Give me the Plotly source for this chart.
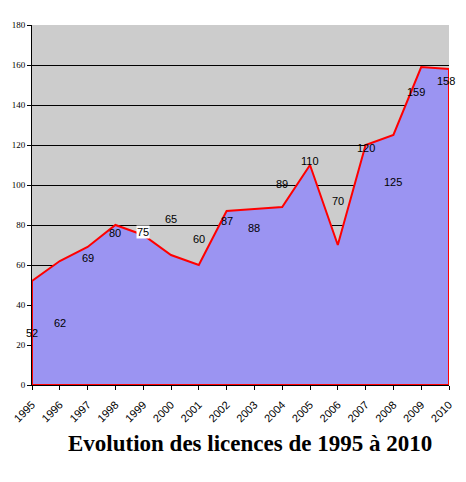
import plotly.graph_objects as go

years = list(range(1995, 2011))
licences = [52, 62, 69, 80, 75, 65, 60, 87, 88, 89, 110, 70, 120, 125, 159, 158]
# vertical position (in data units) where each value label sits in the original chart
label_y = [26, 31, 63.5, 76, 76.5, 83, 73, 82, 78.5, 100.5, 112, 92, 118.5, 101.5, 146.5, 152]
label_dx = [0, 0, 0, 0, 0, 0, 0, 0, 0, 0, 0, 0, 0, 0, -0.2, -0.1]
y_ticks = list(range(0, 181, 20))
title = "Evolution des licences de 1995 à 2010"

fig = go.Figure()
fig.add_trace(go.Scatter(
    x=years + [years[-1], years[0], years[0]],
    y=licences + [0, 0, licences[0]],
    mode="lines",
    fill="toself",
    fillcolor="rgb(155,148,242)",
    line=dict(color="#ff0000", width=2),
    hoverinfo="skip",
    showlegend=False,
))

annotations = []
for i, (yr, v, ly) in enumerate(zip(years, licences, label_y)):
    annotations.append(dict(
        x=yr + label_dx[i], y=ly, xref="x", yref="y", text=str(v), showarrow=False,
        font=dict(family="Liberation Sans, Arial", size=11, color="black"),
        bgcolor="white" if v == 75 else "rgba(0,0,0,0)",
        borderpad=0,
    ))
annotations.append(dict(
    x=0.522, y=-0.163, xref="paper", yref="paper", text="<b>" + title + "</b>",
    showarrow=False, xanchor="center", yanchor="middle",
    font=dict(family="Liberation Serif, Times New Roman", size=23, color="black"),
))

fig.update_layout(
    width=466, height=482,
    margin=dict(l=31, r=16, t=25, b=97),
    paper_bgcolor="white",
    plot_bgcolor="#cccccc",
    annotations=annotations,
    xaxis=dict(
        range=[years[0], years[-1]],
        tickmode="array", tickvals=years, ticktext=[str(y) for y in years],
        tickangle=-45,
        ticks="outside", ticklen=4, tickcolor="black",
        ticklabelstandoff=4,
        showline=True, linecolor="black", linewidth=1,
        showgrid=False, zeroline=False,
        tickfont=dict(family="Liberation Sans, Arial", size=11, color="black"),
    ),
    yaxis=dict(
        range=[0, 180],
        tickmode="array", tickvals=y_ticks,
        ticks="outside", ticklen=4, tickcolor="black",
        showline=True, linecolor="black", linewidth=1,
        showgrid=True, gridcolor="black", gridwidth=1,
        zeroline=False,
        tickfont=dict(family="Liberation Serif, Times New Roman", size=9, color="black"),
    ),
)

fig.write_html("out.html")
